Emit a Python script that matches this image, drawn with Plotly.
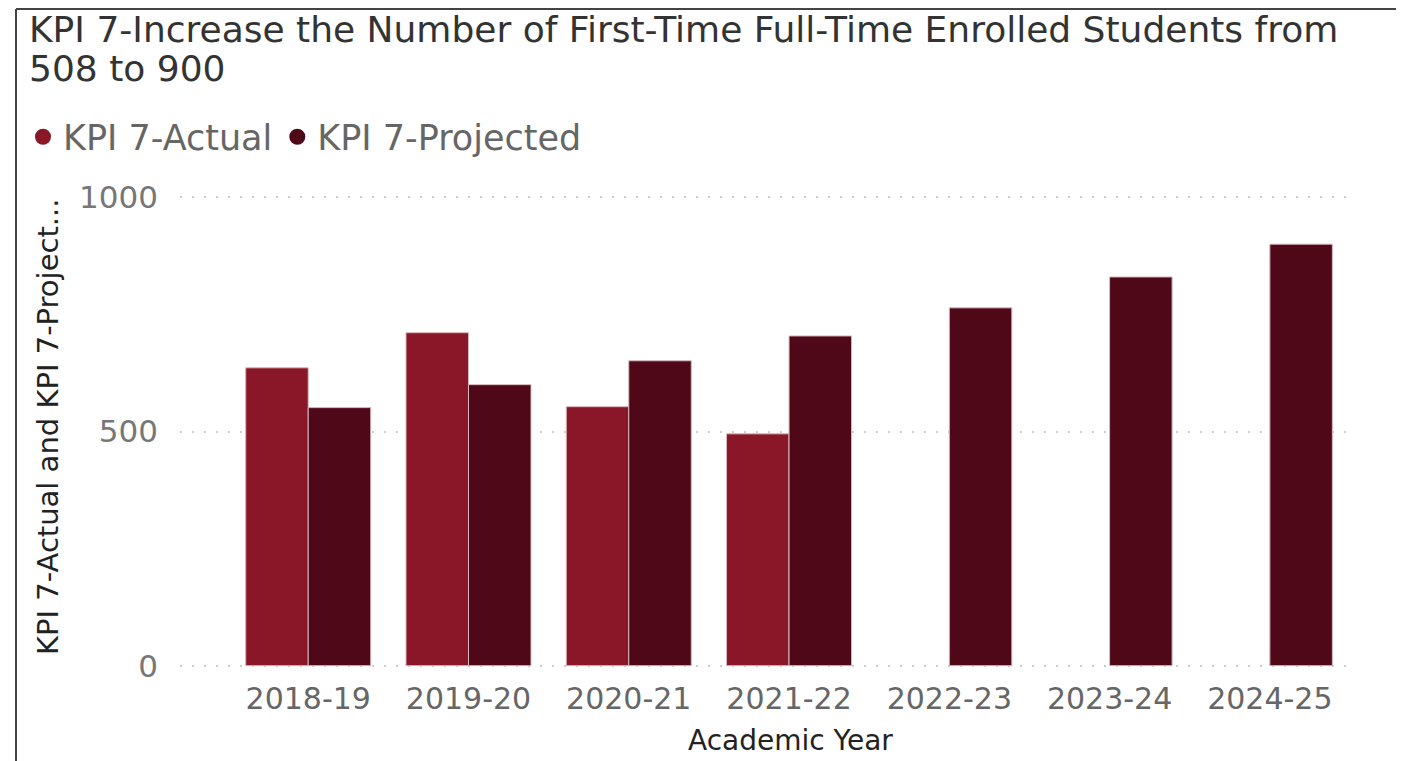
import plotly.graph_objects as go

years = ["2018-19", "2019-20", "2020-21", "2021-22", "2022-23", "2023-24", "2024-25"]
actual = [636, 711, 553, 495, None, None, None]
projected = [551, 600, 651, 704, 764, 830, 900]

title_lines = ["KPI 7-Increase the Number of First-Time Full-Time Enrolled Students from",
               "508 to 900"]

c_actual = "#8A1728"
c_proj = "#4F0818"
font = "DejaVu Sans"

# page body has an 8px margin, so the figure is a bit smaller than the window
W, H = 1396, 753
L, R, T, B = 172, 54, 187, 93
pw, ph = W - L - R, H - T - B


def px(x):
    return (x - L) / pw


def py(y):
    return (H - B - y) / ph


fig = go.Figure()

fig.add_trace(go.Bar(x=years, y=actual, name="KPI 7-Actual", showlegend=False,
                     marker={"color": c_actual, "line": {"color": "#d9b8bd", "width": 1}}))
fig.add_trace(go.Bar(x=years, y=projected, name="KPI 7-Projected", showlegend=False,
                     marker={"color": c_proj, "line": {"color": "#d9b8bd", "width": 1}}))

# legend entries with round markers
for name, col in [("KPI 7-Actual", c_actual), ("KPI 7-Projected", c_proj)]:
    fig.add_trace(go.Scatter(x=[None], y=[None], mode="markers", name=name,
                             marker={"color": col, "size": 19, "symbol": "circle"}))

fig.update_layout(
    width=W, height=H,
    margin={"l": L, "r": R, "t": T, "b": B},
    plot_bgcolor="white", paper_bgcolor="white",
    barmode="group", bargap=0.22, bargroupgap=0,
    legend={
        "orientation": "h", "xref": "container", "yref": "container",
        "x": 15 / W, "xanchor": "left", "y": 1 - 129 / H, "yanchor": "middle",
        "font": {"family": font, "size": 35, "color": "#666666"},
        "itemwidth": 30, "tracegroupgap": 0,
    },
    showlegend=True,
)

fig.update_xaxes(
    type="category", range=[-0.8, 6.5],
    tickfont={"family": font, "size": 30, "color": "#666666"},
    showgrid=False, zeroline=False, showline=False, ticks="",
    ticklabelstandoff=10,
)
fig.update_yaxes(
    range=[-5, 1005], tickvals=[0, 500, 1000],
    tickfont={"family": font, "size": 31, "color": "#777777"},
    showgrid=True, gridcolor="#cccccc", griddash="2px,10px", gridwidth=2,
    zeroline=False, showline=False, ticks="", ticklabelstandoff=21,
)

for line, yc in zip(title_lines, [21.5, 60.5]):
    fig.add_annotation(text=line, xref="paper", yref="paper",
                       x=px(19), y=py(yc), xanchor="left", yanchor="middle",
                       showarrow=False, font={"family": font, "size": 36, "color": "#333333"})

fig.add_annotation(text="Academic Year", xref="paper", yref="paper",
                   x=px(782), y=py(732), xanchor="center", yanchor="middle",
                   showarrow=False, font={"family": font, "size": 28, "color": "#222222"})
fig.add_annotation(text="KPI 7-Actual and KPI 7-Project...", xref="paper", yref="paper",
                   x=px(40), y=py(419), xanchor="center", yanchor="middle", textangle=-90,
                   showarrow=False, font={"family": font, "size": 29, "color": "#222222"})

# visual frame (top and left edges)
fig.add_shape(type="line", xref="paper", yref="paper", x0=px(8), x1=px(W + 5),
              y0=py(1), y1=py(1), line={"color": "#444444", "width": 2})
fig.add_shape(type="line", xref="paper", yref="paper", x0=px(8), x1=px(8),
              y0=py(1), y1=py(H + 5), line={"color": "#444444", "width": 2})

fig.write_html("out.html")
